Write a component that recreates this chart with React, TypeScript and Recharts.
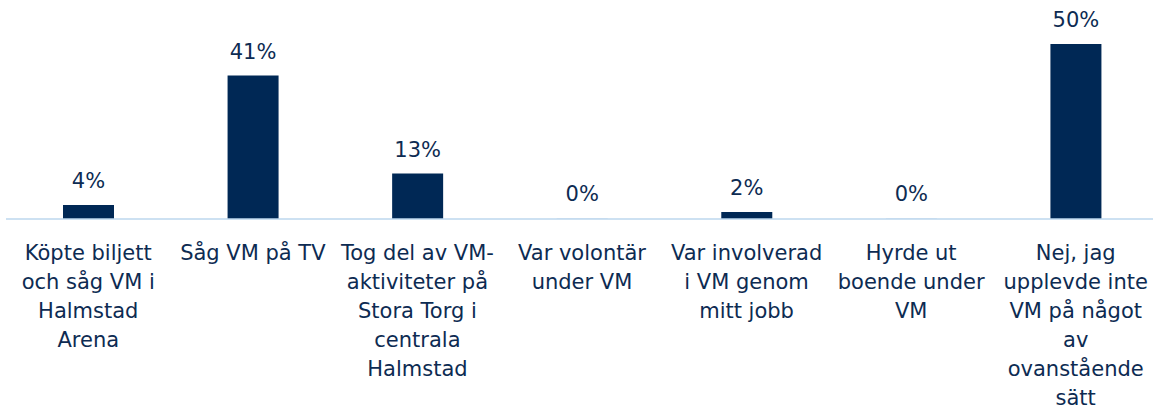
import { BarChart, Bar, XAxis, YAxis, LabelList, Cell } from "recharts"

const categories = [
  "Köpte biljett och såg VM i Halmstad Arena",
  "Såg VM på TV",
  "Tog del av VM-aktiviteter på Stora Torg i centrala Halmstad",
  "Var volontär under VM",
  "Var involverad i VM genom mitt jobb",
  "Hyrde ut boende under VM",
  "Nej, jag upplevde inte VM på något av ovanstående sätt",
]

// line breaks as they appear under each bar
const tickLines = [
  ["Köpte biljett", "och såg VM i", "Halmstad", "Arena"],
  ["Såg VM på TV"],
  ["Tog del av VM-", "aktiviteter på", "Stora Torg i", "centrala", "Halmstad"],
  ["Var volontär", "under VM"],
  ["Var involverad", "i VM genom", "mitt jobb"],
  ["Hyrde ut", "boende under", "VM"],
  ["Nej, jag", "upplevde inte", "VM på något", "av", "ovanstående", "sätt"],
]

const shares = [4, 41, 13, 0, 2, 0, 50]

const navy = "#002855"
const textColor = "#0d2b52"
const font = "DejaVu Sans, Verdana, sans-serif"

const data = categories.map((name, i) => ({ name, value: shares[i] }))

const CategoryTick = ({ x, y, payload }: any) => {
  const idx = categories.indexOf(payload.value)
  const lines = tickLines[idx] || [payload.value]
  return (
    <text x={x} y={y} textAnchor="middle" fill={textColor} fontSize={21} fontFamily={font}>
      {lines.map((line, i) => (
        <tspan key={i} x={x} dy={i === 0 ? 41 : 29}>
          {line}
        </tspan>
      ))}
    </text>
  )
}

export default function App() {
  return (
    <div style={{ position: "absolute", left: 0, top: 0, width: 1153, height: 409, overflow: "hidden", background: "#fff" }}>
      <BarChart
        width={1160}
        height={409}
        data={data}
        margin={{ top: 44, right: 2, left: 6, bottom: 0 }}
        barSize={51}
      >
        <XAxis
          dataKey="name"
          height={190}
          interval={0}
          tickLine={false}
          tickSize={0}
          tickMargin={0}
          axisLine={{ stroke: "#bdd7ee", strokeWidth: 1.5 }}
          tick={<CategoryTick />}
        />
        <YAxis hide domain={[0, 50]} />
        <Bar dataKey="value" fill={navy} minPointSize={1} isAnimationActive={false}>
          {data.map((d, i) => (
            <Cell key={i} fill={d.value === 0 ? "#dde6f1" : navy} />
          ))}
          <LabelList
            dataKey="value"
            position="top"
            offset={17}
            formatter={(v: any) => `${v}%`}
            fill={textColor}
            fontSize={21}
            fontFamily={font}
          />
        </Bar>
      </BarChart>
    </div>
  )
}
